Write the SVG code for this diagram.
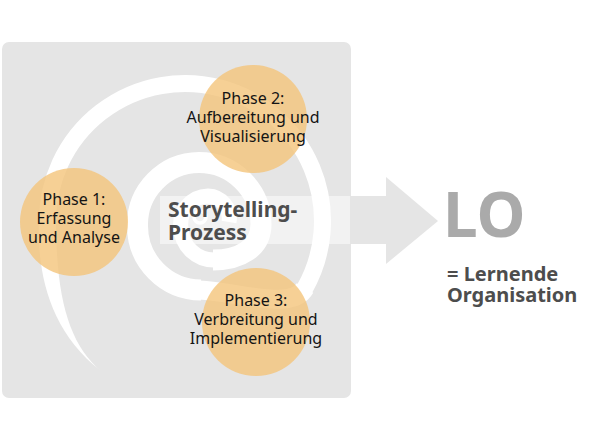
<svg xmlns="http://www.w3.org/2000/svg" width="600" height="441" viewBox="0 0 600 441">
  <style>
    .phase { fill: #f4c47a; fill-opacity: 0.8; }
    .ptxt { font-family: "Noto Sans", "Open Sans", sans-serif; font-size: 16px; fill: #141414; text-anchor: middle; }
    .btxt { font-family: "Noto Sans", "Open Sans", sans-serif; font-weight: bold; }
    .sp { fill: none; stroke: #ffffff; stroke-linecap: butt; }
  </style>
  <rect width="600" height="441" fill="#ffffff"/>
  <!-- background panel -->
  <rect id="panel" x="2" y="42" width="349" height="356" rx="7" fill="#e5e5e5"/>
  <!-- spiral -->
  <g id="spiral">
    <path d="M 39,220 C 37,270 48,330 101,371 C 70,345 56,300 56,220 Z" fill="#ffffff"/>
    <path class="sp" stroke-width="17" d="M 47.5,221 A 137.5 137.5 0 1 1 304.5,289"/>
    <path class="sp" stroke-width="19" d="M 305,288 C 292,311 240,292 199,290"/>
    <path class="sp" stroke-width="21" d="M 201,290 A 64 64 0 0 1 137.5,226 A 62 62 0 0 1 199,162.5 A 62 62 0 0 1 261,224 C 261,248 240,260 213,260"/>
    <path class="sp" stroke-width="15" d="M 215,260 A 33 33 0 0 1 181,228 A 28 28 0 0 1 208,196 A 22 22 0 0 1 229,222"/>
    <circle cx="200" cy="217" r="6" fill="none" stroke="#ffffff" stroke-width="3.5"/>
  </g>
  <!-- arrow -->
  <g id="connectors">
    <rect x="160" y="196" width="191" height="48" fill="#ffffff" fill-opacity="0.5"/>
    <polygon points="350,196 386,196 386,177 438,221 386,264 386,244 350,244" fill="#e5e5e5"/>
  </g>
  <g id="storytelling">
    <text class="btxt" x="168" y="217" font-size="21" fill="#4d4d4d">Storytelling-<tspan x="168" y="240">Prozess</tspan></text>
  </g>
  <g id="phase1">
    <circle class="phase" cx="74" cy="222" r="54"/>
    <text class="ptxt" x="74" y="205">Phase 1:<tspan x="74" y="224">Erfassung</tspan><tspan x="74" y="243">und Analyse</tspan></text>
  </g>
  <g id="phase2">
    <circle class="phase" cx="253" cy="119" r="54"/>
    <text class="ptxt" x="253" y="104">Phase 2:<tspan x="253" y="123">Aufbereitung und</tspan><tspan x="253" y="142">Visualisierung</tspan></text>
  </g>
  <g id="phase3">
    <circle class="phase" cx="256" cy="322" r="54"/>
    <text class="ptxt" x="256" y="306">Phase 3:<tspan x="256" y="325">Verbreitung und</tspan><tspan x="256" y="344">Implementierung</tspan></text>
  </g>
  <g id="lo">
    <text class="btxt" x="443" y="237" font-size="62" fill="#aaaaaa">LO</text>
    <text class="btxt" x="447" y="281" font-size="20" fill="#4d4d4d">= Lernende<tspan x="447" y="302">Organisation</tspan></text>
  </g>
</svg>
